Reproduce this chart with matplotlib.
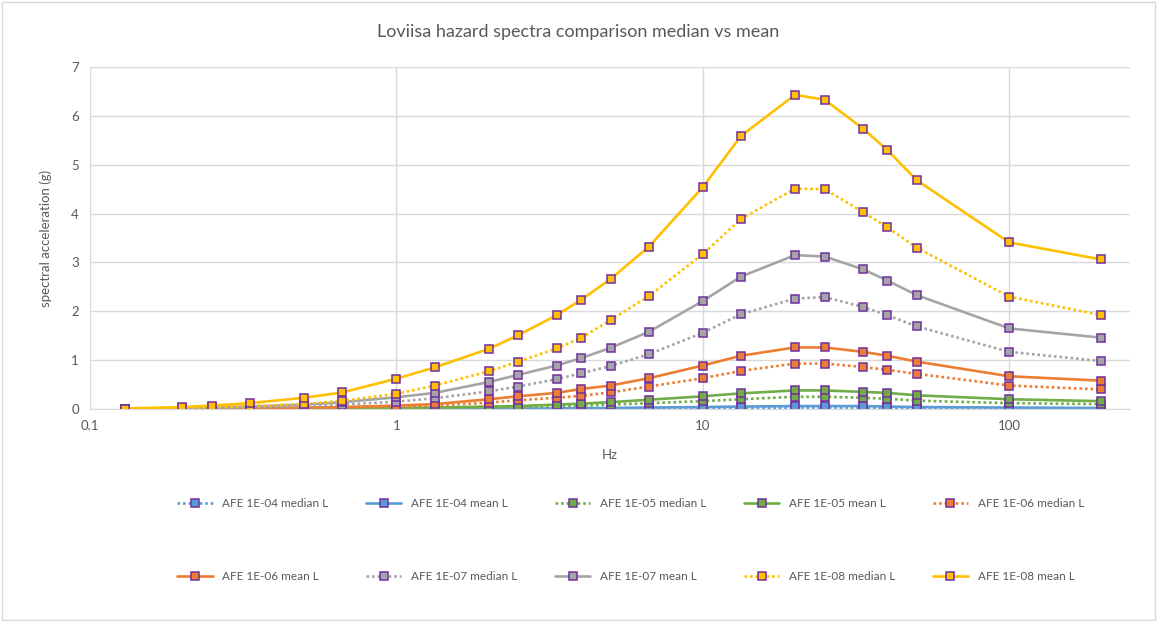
import matplotlib
matplotlib.use("Agg")
import matplotlib.pyplot as plt
from matplotlib.patches import Rectangle

plt.rcParams["font.family"] = ["Lato", "DejaVu Sans"]

freq = [0.13, 0.2, 0.25, 0.333, 0.5, 0.667, 1, 1.333, 2, 2.5, 3.333, 4, 5, 6.667,
        10, 13.33, 20, 25, 33.33, 40, 50, 100, 200]

afe4_median = [0, 0, 0, 0, 0, 0, 0, 0, 0, 0.01, 0.01, 0.01, 0.01, 0.01,
               0.02, 0.02, 0.03, 0.03, 0.03, 0.02, 0.02, 0.01, 0.01]
afe4_mean = [0, 0, 0, 0, 0, 0, 0, 0.01, 0.01, 0.01, 0.01, 0.02, 0.02, 0.03,
             0.04, 0.05, 0.06, 0.06, 0.06, 0.05, 0.04, 0.03, 0.02]
afe5_median = [0, 0, 0, 0, 0.01, 0.01, 0.01, 0.02, 0.03, 0.04, 0.06, 0.07, 0.09, 0.12,
               0.16, 0.20, 0.25, 0.25, 0.23, 0.21, 0.17, 0.12, 0.10]
afe5_mean = [0, 0, 0, 0.01, 0.01, 0.01, 0.02, 0.03, 0.05, 0.06, 0.09, 0.11, 0.14, 0.19,
             0.26, 0.32, 0.38, 0.38, 0.35, 0.33, 0.28, 0.20, 0.16]
afe6_median = [0, 0.01, 0.01, 0.01, 0.02, 0.03, 0.05, 0.07, 0.13, 0.18, 0.23, 0.27, 0.34, 0.46,
               0.63, 0.78, 0.93, 0.93, 0.86, 0.80, 0.72, 0.48, 0.40]
afe6_mean = [0, 0.01, 0.01, 0.02, 0.03, 0.04, 0.07, 0.10, 0.20, 0.26, 0.33, 0.41, 0.48, 0.63,
             0.89, 1.09, 1.26, 1.26, 1.17, 1.09, 0.97, 0.67, 0.58]
afe7_median = [0, 0.01, 0.02, 0.03, 0.06, 0.09, 0.15, 0.22, 0.36, 0.46, 0.61, 0.73, 0.88, 1.12,
               1.56, 1.94, 2.26, 2.29, 2.09, 1.92, 1.69, 1.17, 0.98]
afe7_mean = [0, 0.02, 0.03, 0.05, 0.09, 0.14, 0.24, 0.33, 0.55, 0.70, 0.89, 1.04, 1.25, 1.58,
             2.21, 2.71, 3.15, 3.12, 2.86, 2.63, 2.33, 1.65, 1.46]
afe8_median = [0, 0.02, 0.04, 0.06, 0.10, 0.17, 0.31, 0.48, 0.77, 0.97, 1.24, 1.45, 1.82, 2.31,
               3.17, 3.89, 4.51, 4.50, 4.03, 3.72, 3.30, 2.30, 1.92]
afe8_mean = [0.01, 0.04, 0.07, 0.12, 0.23, 0.34, 0.62, 0.85, 1.23, 1.51, 1.92, 2.23, 2.66, 3.32,
             4.54, 5.59, 6.43, 6.33, 5.74, 5.30, 4.68, 3.41, 3.06]

DOT = (0, (1, 1.1))
series = [
    ("AFE 1E-04 median L", afe4_median, "#5B9BD5", DOT),
    ("AFE 1E-04 mean L", afe4_mean, "#5B9BD5", "-"),
    ("AFE 1E-05 median L", afe5_median, "#70AD47", DOT),
    ("AFE 1E-05 mean L", afe5_mean, "#70AD47", "-"),
    ("AFE 1E-06 median L", afe6_median, "#ED7D31", DOT),
    ("AFE 1E-06 mean L", afe6_mean, "#ED7D31", "-"),
    ("AFE 1E-07 median L", afe7_median, "#A5A5A5", DOT),
    ("AFE 1E-07 mean L", afe7_mean, "#A5A5A5", "-"),
    ("AFE 1E-08 median L", afe8_median, "#FFC000", DOT),
    ("AFE 1E-08 mean L", afe8_mean, "#FFC000", "-"),
]

TXT = "#595959"
GRID = "#D9D9D9"

fig = plt.figure(figsize=(11.57, 6.21), dpi=100)
ax = fig.add_axes([90 / 1157, 1 - 409 / 621, 1040 / 1157, 342 / 621])

handles = []
for label, vals, col, ls in series:
    h, = ax.plot(freq, vals, color=col, ls=ls, lw=1.9, marker="s", ms=6,
                 mfc=col, mec="#7030A0", mew=1.1, label=label,
                 dash_capstyle="butt", solid_capstyle="round")
    handles.append(h)

ax.set_xscale("log")
ax.set_xlim(0.1, 248)
ax.set_ylim(0, 7)
ax.set_xticks([0.1, 1, 10, 100])
ax.set_xticklabels(["0.1", "1", "10", "100"])
ax.xaxis.set_minor_locator(matplotlib.ticker.NullLocator())
ax.set_yticks(range(0, 8))
ax.grid(True, color=GRID, lw=1.0)
ax.set_axisbelow(True)
for s in ["top", "right", "left"]:
    ax.spines[s].set_visible(False)
ax.spines["bottom"].set_color(GRID)
ax.tick_params(length=0, colors=TXT, labelsize=9.5, pad=8)

ax.set_xlabel("Hz", color=TXT, fontsize=9.5, labelpad=12)
ax.set_ylabel("spectral acceleration (g)", color=TXT, fontsize=9.5, labelpad=14)
fig.text(0.5, 1 - 32 / 621, "Loviisa hazard spectra comparison median vs mean",
         ha="center", va="center", fontsize=13, color=TXT)

order = [0, 5, 1, 6, 2, 7, 3, 8, 4, 9]
fig.legend([handles[i] for i in order], [series[i][0] for i in order],
           loc="center", bbox_to_anchor=(0.545, 1 - 540 / 621), ncol=5,
           frameon=False, fontsize=8.5, labelcolor=TXT, handlelength=3.0,
           columnspacing=3.2, labelspacing=5.2, handletextpad=0.8)

fig.patches.append(Rectangle((0.002, 0.002), 0.996, 0.994, transform=fig.transFigure,
                             fill=False, edgecolor="#D9D9D9", lw=1.0))

fig.savefig("out.png", dpi=100)
